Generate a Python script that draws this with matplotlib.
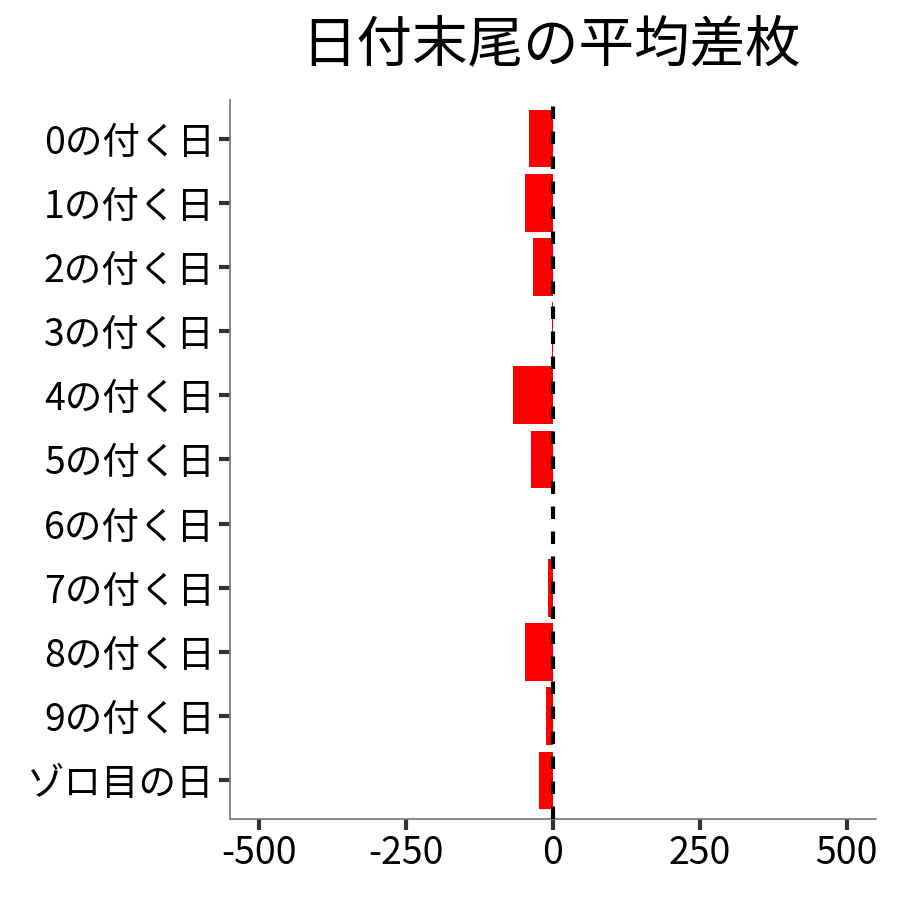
import numpy as np
import matplotlib
matplotlib.use("Agg")
import matplotlib.pyplot as plt

plt.rcParams['font.family'] = ['Noto Sans CJK JP', 'DejaVu Sans']

# data
labels = ['0の付く日', '1の付く日', '2の付く日', '3の付く日', '4の付く日',
          '5の付く日', '6の付く日', '7の付く日', '8の付く日', '9の付く日',
          'ゾロ目の日']
values = [-41, -48, -34, -2, -68, -38, 0, -9, -48, -12, -23]
xticks = [-500, -250, 0, 250, 500]

fig = plt.figure(figsize=(9, 9), dpi=100)
ax = fig.add_axes([0.2556, 0.09, 0.7177, 0.7989])

y = np.arange(len(labels))
ax.barh(y, values, height=0.9, color='#ff0000', zorder=2)
ax.axvline(0, color='black', linestyle=(0, (3, 3)), linewidth=3, zorder=3)

ax.set_xlim(-550, 550)
ax.set_ylim(len(labels) - 0.4, -0.6)
ax.set_yticks(y)
ax.set_yticklabels(labels)
ax.set_xticks(xticks)
ax.set_xticklabels([str(v) for v in xticks])

ax.tick_params(axis='both', labelsize=27, colors='#333333', length=8,
               width=3, labelcolor='black', pad=3)
for side in ['top', 'right']:
    ax.spines[side].set_visible(False)
for side in ['left', 'bottom']:
    ax.spines[side].set_color('#777777')
    ax.spines[side].set_linewidth(1.2)

fig.text(0.6122, 0.95, '日付末尾の平均差枚', ha='center', va='center', fontsize=40)

fig.savefig('out.png', dpi=100)
